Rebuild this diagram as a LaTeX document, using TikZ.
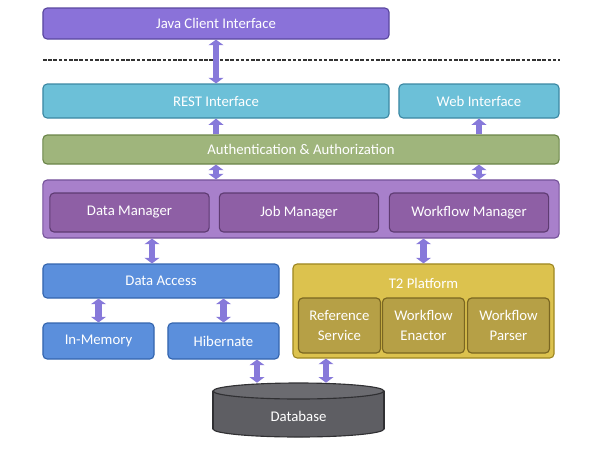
\documentclass[tikz,border=0pt]{standalone}
\usepackage{fontspec}
\setmainfont{Carlito}
\usetikzlibrary{arrows.meta}
\definecolor{javafill}{HTML}{8A72D9}
\definecolor{javaline}{HTML}{5A479F}
\definecolor{restfill}{HTML}{6CC0D8}
\definecolor{restline}{HTML}{3C88A3}
\definecolor{authfill}{HTML}{9FB57C}
\definecolor{authline}{HTML}{6B8549}
\definecolor{mgrfill}{HTML}{A880CB}
\definecolor{mgrline}{HTML}{75529A}
\definecolor{subfill}{HTML}{8E5FA5}
\definecolor{subline}{HTML}{5E3B72}
\definecolor{accfill}{HTML}{5B8FDC}
\definecolor{accline}{HTML}{3465AE}
\definecolor{t2fill}{HTML}{DCC24E}
\definecolor{t2line}{HTML}{9E8722}
\definecolor{t2sub}{HTML}{B6A046}
\definecolor{t2subline}{HTML}{7A6621}
\definecolor{dbbody}{HTML}{5E5E63}
\definecolor{dbtop}{HTML}{6B6B70}
\definecolor{dbline}{HTML}{303033}
\definecolor{arrowcol}{HTML}{8779DA}
\tikzstyle{box}=[rectangle,rounded corners=3pt,line width=0.8pt,text=white,
  font=\fontsize{10.5}{14}\selectfont,inner sep=1pt,align=center]
\tikzstyle{mgrsub}=[box,fill=subfill,draw=subline,minimum width=3.98cm,minimum height=0.975cm]
\tikzstyle{t2box}=[box,fill=t2sub,draw=t2subline,minimum width=2.05cm,minimum height=1.375cm]
\tikzstyle{link}=[arrowcol,line width=4.5pt,
  {Triangle[length=4pt,width=10.5pt]}-{Triangle[length=4pt,width=10.5pt]}]
\tikzstyle{uplink}=[arrowcol,line width=4.5pt,-{Triangle[length=4.5pt,width=10.5pt]}]

\begin{document}
\begin{tikzpicture}[x=0.025cm,y=-0.025cm]
\useasboundingbox (0,0) rectangle (600,450);
% client side
\node[box,fill=javafill,draw=javaline,minimum width=8.65cm,minimum height=0.775cm] (java) at (216,23.5) {Java Client Interface};
\draw[black!80,line width=1.2pt,dash pattern=on 2.5pt off 1.2pt] (43,60) -- (560,60);
% server
\node[box,fill=restfill,draw=restline,minimum width=8.65cm,minimum height=0.85cm] (rest) at (216,101) {REST Interface};
\node[box,fill=restfill,draw=restline,minimum width=4cm,minimum height=0.85cm] (web) at (479,101) {Web Interface};
\node[box,fill=authfill,draw=authline,minimum width=12.9cm,minimum height=0.725cm] (auth) at (301,149.5) {Authentication \& Authorization};
\node[box,fill=mgrfill,draw=mgrline,minimum width=12.9cm,minimum height=1.45cm] (mgr) at (301,209) {};
\foreach \name/\x/\text in {dm/129.5/Data Manager, jm/299/Job Manager, wm/469/Workflow Manager}
  \node[mgrsub] (\name) at (\x,212.5) {\text};
\node[box,fill=accfill,draw=accline,minimum width=5.9cm,minimum height=0.85cm] (da) at (161,281) {Data Access};
\node[box,fill=accfill,draw=accline,minimum width=2.775cm,minimum height=0.9cm] (inmem) at (98.5,341) {In-Memory};
\node[box,fill=accfill,draw=accline,minimum width=2.775cm,minimum height=0.9cm] (hib) at (223.5,341) {Hibernate};
\node[box,fill=t2fill,draw=t2line,minimum width=6.525cm,minimum height=2.35cm] (t2) at (423.5,311) {};
\node[text=white,font=\fontsize{10.5}{14}\selectfont] (t2label) at (423.5,283) {T2 Platform};
\foreach \name/\x/\text in {ref/339.5/Reference\\Service, enactor/423.5/Workflow\\Enactor, parser/508.5/Workflow\\Parser}
  \node[t2box] (\name) at (\x,325.5) {\text};
% database
\fill[dbbody,draw=dbline,line width=0.8pt] (298.5,429) ellipse [x radius=2.1375cm, y radius=0.2cm];
\fill[dbbody] (213,391) rectangle (384,429);
\draw[dbline,line width=0.8pt] (213,391) -- (213,429) (384,391) -- (384,429);
\fill[dbtop,draw=dbline,line width=0.8pt] (298.5,391) ellipse [x radius=2.1375cm, y radius=0.2cm];
\node[minimum width=4.275cm,minimum height=1.35cm,
  label={[text=white,font=\fontsize{10.5}{14}\selectfont,yshift=-0.15cm]center:Database}] (db) at (298.5,410) {};
% links
\coordinate (dmlink) at (152,250);
\coordinate (hiblink) at (257,370);
\coordinate (t2link) at (326,370);
\foreach \from/\to in {java.south/rest.north, auth.south -| rest.south/mgr.north -| rest.south,
                       auth.south -| web.south/mgr.north -| web.south, mgr.south -| dmlink/da.north -| dmlink,
                       mgr.south -| t2.north/t2.north, da.south -| inmem.north/inmem.north,
                       da.south -| hib.north/hib.north, hib.south -| hiblink/db.north -| hiblink,
                       t2.south -| t2link/db.north -| t2link}
  \draw[link] (\from) -- (\to);
\foreach \from/\to in {auth.north -| rest.south/rest.south, auth.north -| web.south/web.south}
  \draw[uplink] (\from) -- (\to);
\end{tikzpicture}
\end{document}
